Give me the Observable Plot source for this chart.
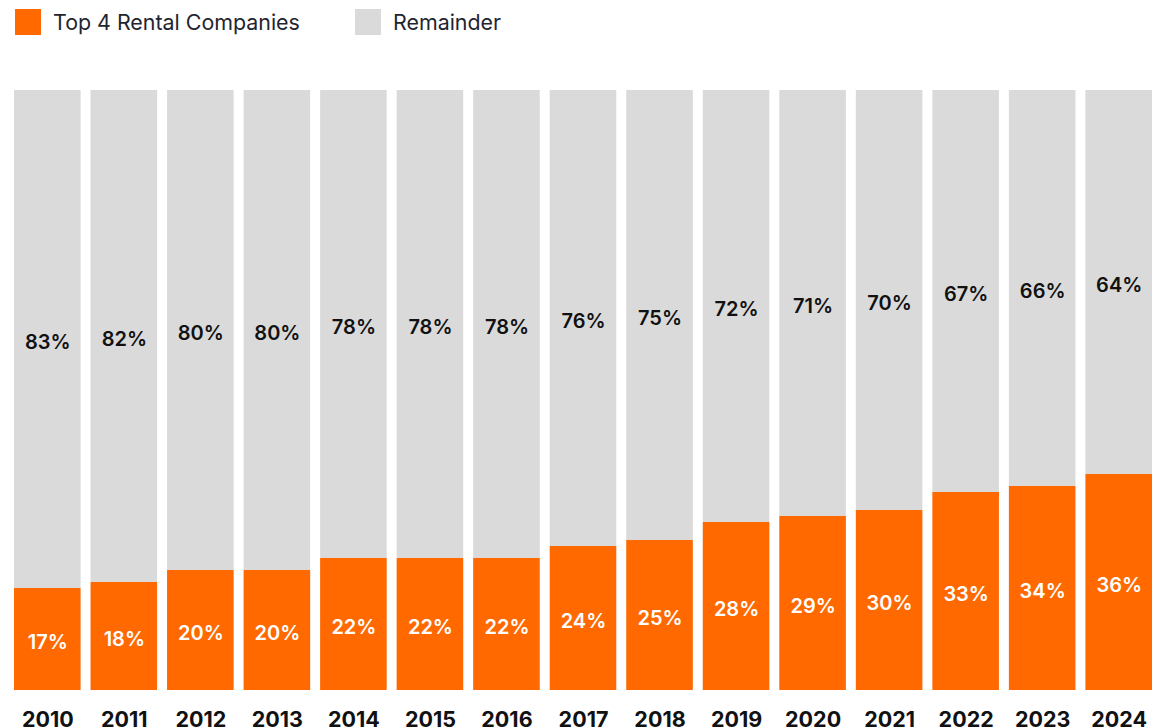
<!DOCTYPE html>
<html>
<head>
<meta charset="utf-8">
<script src="https://cdn.jsdelivr.net/npm/d3@7"></script>
<script src="https://cdn.jsdelivr.net/npm/@observablehq/plot@0.6"></script>
<style>
  body { margin: 0; background: #fff; font-family: Inter, "Noto Sans", sans-serif; }
  #legend { position: relative; height: 45px; width: 1162px; }
  .item { position: absolute; top: 9px; display: flex; align-items: center; font-size: 21.4px; line-height: 26px; color: #1f2530; }
  .sw { width: 26px; height: 26px; margin-right: 12px; }
</style>
</head>
<body>
<div id="legend">
  <div class="item" style="left:15px"><div class="sw" style="background:#FF6900"></div><span>Top 4 Rental Companies</span></div>
  <div class="item" style="left:355px"><div class="sw" style="background:#DADADA"></div><span>Remainder</span></div>
</div>
<div id="chart"></div>
<script>
const years = ["2010","2011","2012","2013","2014","2015","2016","2017","2018","2019","2020","2021","2022","2023","2024"];
const top4 = [17,18,20,20,22,22,22,24,25,28,29,30,33,34,36];
const remainder = [83,82,80,80,78,78,78,76,75,72,71,70,67,66,64];
const seriesNames = ["Top 4 Rental Companies", "Remainder"];
const seriesColors = ["#FF6900", "#DADADA"];
const labelColors = ["#ffffff", "#111111"];

const data = [];
years.forEach((y, i) => {
  data.push({year: y, series: seriesNames[0], value: top4[i]});
  data.push({year: y, series: seriesNames[1], value: remainder[i]});
});

const chart = Plot.plot({
  width: 1162,
  height: 683,
  marginTop: 45,
  marginBottom: 38,
  marginLeft: 14,
  marginRight: 10,
  style: {fontFamily: "Inter, 'Noto Sans', sans-serif"},
  x: {domain: years, paddingInner: 0.13, paddingOuter: 0, round: false, label: null},
  y: {domain: [0, 100], axis: null},
  color: {domain: seriesNames, range: seriesColors},
  marks: [
    Plot.barY(data, {x: "year", y: "value", z: "series", fill: "series", order: seriesNames}),
    Plot.text(data, Plot.stackY({
      x: "year", y: "value", z: "series", order: seriesNames,
      text: d => d.value + "%",
      fill: d => labelColors[seriesNames.indexOf(d.series)],
      fontSize: 20, fontWeight: 600, dy: 3
    })),
    Plot.axisX({tickSize: 0, tickPadding: 21, fontSize: 21.5, fontWeight: 700, fill: "#111", label: null})
  ]
});
document.getElementById("chart").appendChild(chart);
</script>
</body>
</html>
